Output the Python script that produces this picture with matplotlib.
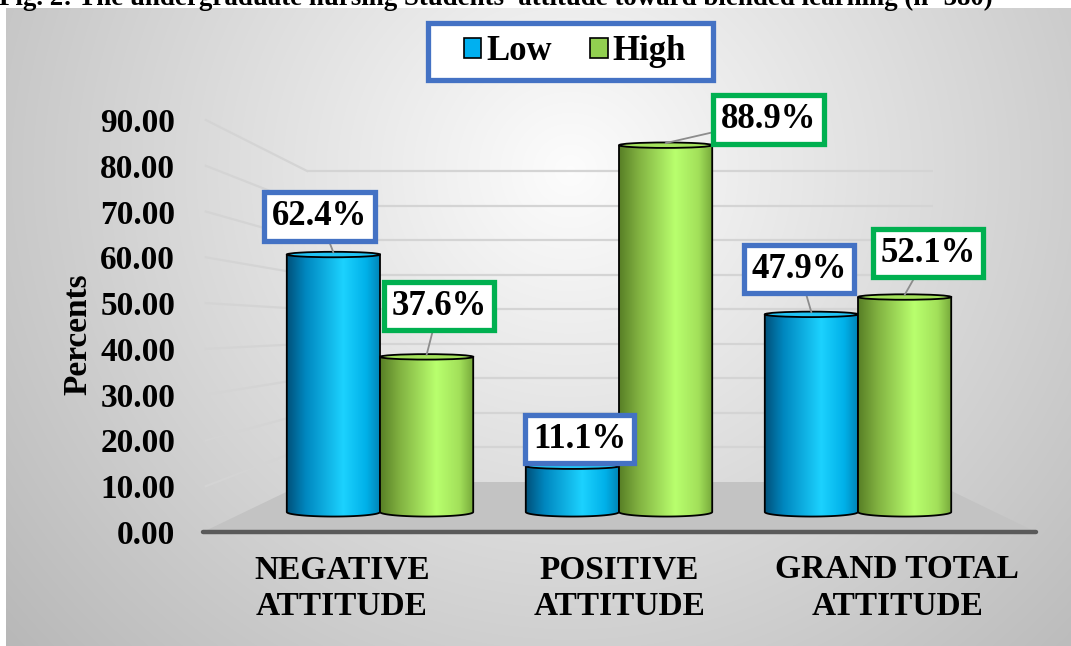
import numpy as np
import matplotlib
matplotlib.use("Agg")
import matplotlib.pyplot as plt
from matplotlib.patches import Ellipse, PathPatch, Polygon, Rectangle, Patch
from matplotlib.path import Path
from matplotlib.colors import LinearSegmentedColormap
from matplotlib.lines import Line2D
from matplotlib.transforms import IdentityTransform

# data
categories = ["NEGATIVE\nATTITUDE", "POSITIVE\nATTITUDE", "GRAND TOTAL\nATTITUDE"]
low = [62.4, 11.1, 47.9]
high = [37.6, 88.9, 52.1]
series_names = ["Low", "High"]
yticks = [0, 10, 20, 30, 40, 50, 60, 70, 80, 90]
title = "Fig. 2: The undergraduate nursing Students' attitude toward blended learning (n=380)"

W, H = 1071, 646
FONT = "Liberation Serif"
plt.rcParams['font.family'] = FONT
plt.rcParams['font.weight'] = 'bold'

fig = plt.figure(figsize=(W / 100, H / 100), dpi=100)


def fig_rect(x0, y_top, x1, y_bot):
    # pixel box -> figure fraction
    return [x0 / W, 1 - y_bot / H, (x1 - x0) / W, (y_bot - y_top) / H]


# background gradient for chart area
bg = fig.add_axes([0, 0, 1, 1])
bg.set_xlim(0, W)
bg.set_ylim(H, 0)
bg.axis('off')
gx, gy = np.meshgrid(np.arange(6, W), np.arange(8, H))
r = np.sqrt(((gx - 570) / 720.0) ** 2 + ((gy - 170) / 700.0) ** 2)
val = np.clip(0.99 - 0.26 * r, 0.72, 1.0)
bg.imshow(np.dstack([val, val, val]), extent=(6, W, H, 8), aspect='auto', zorder=0)

# front axis (tick labels, categories), back wall axis (gridlines)
FRONT_L, FRONT_R, FRONT_Y0, FRONT_S = 203, 1036, 532, 4.578
BACK_L, BACK_R, BACK_Y0, BACK_S = 307, 933, 482, 3.456

axf = fig.add_axes(fig_rect(FRONT_L, FRONT_Y0 - 100 * FRONT_S, FRONT_R, FRONT_Y0))
axf.set_xlim(0, len(categories))
axf.set_ylim(0, 100)
axf.patch.set_visible(False)
for s in axf.spines.values():
    s.set_visible(False)
axf.set_xticks([i + 0.5 for i in range(len(categories))])
axf.set_xticklabels(categories, fontsize=24, fontweight='bold', linespacing=1.24)
axf.tick_params(axis='x', length=0, pad=16)
axf.set_yticks(yticks)
axf.set_yticklabels([f"{v:.2f}" for v in yticks], fontsize=24, fontweight='bold')
axf.tick_params(axis='y', length=0, pad=20)
axf.set_ylabel("Percents", fontsize=24, fontweight='bold')
axf.yaxis.set_label_coords((93 - FRONT_L) / (FRONT_R - FRONT_L), (FRONT_Y0 - 334) / (100 * FRONT_S))

axb = fig.add_axes(fig_rect(BACK_L, BACK_Y0 - 100 * BACK_S, BACK_R, BACK_Y0))
axb.set_xlim(0, 1)
axb.set_ylim(0, 100)
axb.axis('off')

grid_c = "#d4d4d4"
for v in yticks[1:]:
    axb.plot([0, 1], [v, v], color=grid_c, lw=1.6, zorder=1)
    p0 = axf.transData.transform((0.01, v))
    p1 = axb.transData.transform((0, v))
    axf.add_line(Line2D([p0[0], p1[0]], [p0[1], p1[1]], color=grid_c, lw=1.6,
                        transform=IdentityTransform(), clip_on=False))

# floor
nc = len(categories)
corners = [axf.transData.transform((0, 0)), axf.transData.transform((nc, 0)),
           axb.transData.transform((1, 0)), axb.transData.transform((0, 0))]
axf.add_patch(Polygon(corners, closed=True, facecolor="#c3c3c3", edgecolor='none',
                      transform=IdentityTransform(), clip_on=False, zorder=2))
axf.add_line(Line2D([corners[0][0], corners[1][0]], [corners[0][1], corners[1][1]],
                    color="#5a5a5a", lw=3.2, transform=IdentityTransform(),
                    clip_on=False, zorder=3, solid_capstyle='round'))

# bars axis
BAR_Y0, BAR_S = 512, 4.126
GX0, GSTEP = 380, 239
XMIN, XMAX, YMIN, YMAX = -0.8, 2.8, -5, 100
ax = fig.add_axes(fig_rect(GX0 + XMIN * GSTEP, BAR_Y0 - YMAX * BAR_S,
                           GX0 + XMAX * GSTEP, BAR_Y0 - YMIN * BAR_S))
ax.set_xlim(XMIN, XMAX)
ax.set_ylim(YMIN, YMAX)
ax.axis('off')

blue_cmap = LinearSegmentedColormap.from_list("b", [(0, "#00527c"), (0.2, "#0088c0"), (0.6, "#1cd2ff"),
                                                    (0.85, "#00b0e8"), (1, "#0082b4")])
green_cmap = LinearSegmentedColormap.from_list("g", [(0, "#587f26"), (0.2, "#80b040"), (0.6, "#b9ff6e"),
                                                     (0.85, "#a2e05a"), (1, "#76a83a")])
WIDTH = 0.39
OFF = 0.195
EH = 1.1  # ellipse half height in data units


def cylinder(xc, v, cmap, top_c, z):
    x0, x1 = xc - WIDTH / 2, xc + WIDTH / 2
    t = np.linspace(np.pi, 2 * np.pi, 40)
    bottom = np.column_stack([xc + WIDTH / 2 * np.cos(t), EH * np.sin(t)])
    verts = np.vstack([[[x0, v]], bottom, [[x1, v]], [[x0, v]]])
    body = PathPatch(Path(verts), facecolor='none', edgecolor='black', lw=1.3, zorder=z + 0.2)
    ax.add_patch(body)
    grad = np.linspace(0, 1, 200).reshape(1, -1)
    im = ax.imshow(grad, cmap=cmap, extent=(x0, x1, -EH, v), aspect='auto', zorder=z)
    im.set_clip_path(body)
    ax.add_patch(Ellipse((xc, v), WIDTH, 2 * EH * 0.6, facecolor=top_c, edgecolor='black',
                         lw=1.3, zorder=z + 0.3))


for i in range(len(categories)):
    cylinder(i - OFF, low[i], blue_cmap, "#22c4f4", 3 + i)
    cylinder(i + OFF, high[i], green_cmap, "#a4e25c", 3.5 + i)

ax.set_xlim(XMIN, XMAX)
ax.set_ylim(YMIN, YMAX)

# value labels (offsets in points)
blue_b, green_b = "#4472c4", "#00b050"
label_offsets = {
    ("Low", 0): (-10, 26), ("High", 0): (9, 35),
    ("Low", 1): (5, 18), ("High", 1): (74, 17),
    ("Low", 2): (-9, 31), ("High", 2): (17, 30),
}
for i in range(len(categories)):
    for name, vals, dx, ec in (("Low", low, -OFF, blue_b), ("High", high, OFF, green_b)):
        ox, oy = label_offsets[(name, i)]
        ax.annotate(f"{vals[i]:.1f}%", xy=(i + dx, vals[i] + 0.5), xytext=(ox, oy),
                    textcoords='offset points', ha='center', va='center',
                    fontsize=25, fontweight='bold', zorder=10,
                    bbox=dict(boxstyle='square,pad=0.22', fc='white', ec=ec, lw=3.8),
                    arrowprops=dict(arrowstyle='-', color='#8c8c8c', lw=1.3,
                                    shrinkA=0, shrinkB=0))

# legend
leg_box = Rectangle((428 / W, 1 - 80 / H), (713 - 428) / W, (80 - 23) / H, transform=fig.transFigure,
                    facecolor='white', edgecolor=blue_b, lw=3.8, zorder=1)
bg.add_artist(leg_box)
handles = [Patch(facecolor="#00b0f0", edgecolor='black', lw=1.2),
           Patch(facecolor="#92d050", edgecolor='black', lw=1.2)]
fig.legend(handles, series_names, loc='center', bbox_to_anchor=(575 / W, 1 - 52 / H), ncol=2,
           frameon=False, prop=dict(family=FONT, weight='bold', size=25),
           handlelength=0.5, handleheight=0.5, handletextpad=0.15, columnspacing=1.1)

# clipped title at top
fig.text(-0.001, 1 - 5 / H, title, fontsize=19.4, fontweight='bold', ha='left', va='baseline')

fig.savefig("out.png", dpi=100)
